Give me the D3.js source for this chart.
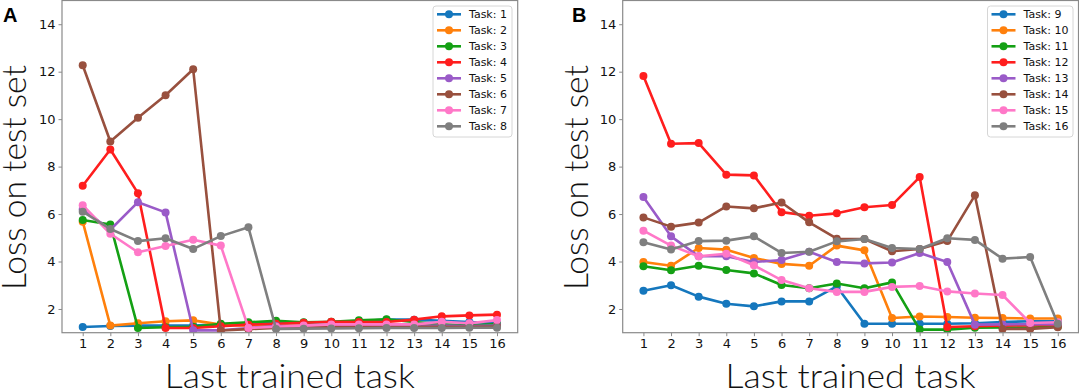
<!DOCTYPE html>
<html><head><meta charset="utf-8">
<script src="https://cdn.jsdelivr.net/npm/d3@7"></script>
<style>body{margin:0;background:#fff;overflow:hidden} svg{display:block}</style>
</head><body>
<svg id="c" width="1079" height="388"></svg>
<script>
// ---- data ----
const lastTrained = [1,2,3,4,5,6,7,8,9,10,11,12,13,14,15,16];
const yTickValues = [2,4,6,8,10,12,14];
const seriesColors = ["#1577bd","#ff800c","#14a014","#ff1e1e","#9a5bc8","#98503e","#ff78c8","#7f7f7f"];

const namesA = ["Task: 1","Task: 2","Task: 3","Task: 4","Task: 5","Task: 6","Task: 7","Task: 8"];
const task1 = [1.24,1.28,1.30,1.30,1.30,1.35,1.38,1.42,1.42,1.45,1.48,1.55,1.55,1.50,1.45,1.40];
const task2 = [5.68,1.30,1.40,1.48,1.52,1.34,1.30,1.30,1.30,1.30,1.30,1.30,1.30,1.30,1.30,1.30];
const task3 = [5.75,5.56,1.20,1.23,1.25,1.38,1.44,1.50,1.44,1.46,1.52,1.57,1.45,1.35,1.30,1.36];
const task4 = [7.19,8.72,6.88,1.20,1.20,1.27,1.34,1.38,1.42,1.46,1.45,1.45,1.55,1.69,1.73,1.76];
const task5 = [6.20,5.34,6.50,6.07,1.10,1.10,1.20,1.28,1.28,1.30,1.30,1.30,1.28,1.30,1.28,1.30];
const task6 = [12.27,9.06,10.06,11.01,12.10,1.09,1.15,1.20,1.22,1.24,1.25,1.25,1.25,1.25,1.25,1.26];
const task7 = [6.37,5.17,4.39,4.65,4.92,4.67,1.20,1.25,1.30,1.35,1.35,1.35,1.35,1.46,1.40,1.53];
const task8 = [6.10,5.37,4.86,4.98,4.53,5.07,5.44,1.16,1.17,1.18,1.19,1.20,1.20,1.20,1.21,1.21];

const namesB = ["Task: 9","Task: 10","Task: 11","Task: 12","Task: 13","Task: 14","Task: 15","Task: 16"];
const task9  = [2.77,3.00,2.52,2.22,2.11,2.32,2.32,2.95,1.38,1.38,1.38,1.38,1.40,1.45,1.48,1.48];
const task10 = [3.98,3.82,4.57,4.50,4.15,3.90,3.82,4.67,4.47,1.62,1.68,1.66,1.63,1.62,1.60,1.60];
const task11 = [3.80,3.63,3.82,3.64,3.50,3.01,2.87,3.07,2.87,3.12,1.13,1.13,1.21,1.22,1.22,1.25];
const task12 = [11.82,8.96,8.99,7.66,7.63,6.08,5.93,6.03,6.29,6.38,7.56,1.24,1.27,1.30,1.32,1.33];
const task13 = [6.72,5.06,4.22,4.22,3.98,4.06,4.41,3.98,3.92,3.96,4.36,3.98,1.34,1.35,1.36,1.36];
const task14 = [5.86,5.47,5.64,6.32,6.24,6.49,5.65,4.96,4.95,4.43,4.53,4.86,6.79,1.16,1.16,1.23];
const task15 = [5.30,4.67,4.22,4.33,3.84,3.22,2.87,2.72,2.72,2.93,2.97,2.74,2.65,2.59,1.41,1.44];
const task16 = [4.81,4.51,4.86,4.88,5.06,4.36,4.41,4.85,4.95,4.57,4.53,4.98,4.91,4.12,4.19,1.38];

const seriesA = [task1,task2,task3,task4,task5,task6,task7,task8];
const seriesB = [task9,task10,task11,task12,task13,task14,task15,task16];

// ---- drawing ----
const svg = d3.select("#c");
const spineColor = "#8a8a8a";

function panel(cfg){
  const x = d3.scaleLinear().domain([0.25,16.75]).range([cfg.left, cfg.right]);
  const y = d3.scaleLinear().domain([1,15]).range([cfg.bottom, cfg.top]);
  const g = svg.append("g");
  const clipId = "clip" + cfg.id;
  svg.append("clipPath").attr("id", clipId).append("rect")
    .attr("x", cfg.left).attr("y", cfg.top)
    .attr("width", cfg.right-cfg.left).attr("height", cfg.bottom-cfg.top);

  const plot = g.append("g").attr("clip-path", `url(#${clipId})`);
  const line = d3.line().x((d,i)=>x(lastTrained[i])).y(d=>y(d));
  cfg.series.forEach((s,k)=>{
    const sg = plot.append("g");
    sg.append("path").datum(s).attr("d", line).attr("fill","none")
      .attr("stroke", seriesColors[k]).attr("stroke-width", 2.6)
      .attr("stroke-linejoin","round");
    sg.selectAll("circle").data(s).join("circle")
      .attr("cx",(d,i)=>x(lastTrained[i])).attr("cy",d=>y(d)).attr("r",4)
      .attr("fill", seriesColors[k]);
  });

  // axes
  const ax = g.append("g").attr("transform",`translate(0,${cfg.bottom})`)
    .call(d3.axisBottom(x).tickValues(lastTrained).tickSize(3.5).tickPadding(3).tickFormat(d3.format("d")));
  const ay = g.append("g").attr("transform",`translate(${cfg.left},0)`)
    .call(d3.axisLeft(y).tickValues(yTickValues).tickSize(3.5).tickPadding(3).tickFormat(d3.format("d")));
  [ax,ay].forEach(a=>{
    a.select(".domain").remove();
    a.selectAll(".tick line").attr("stroke", spineColor).attr("stroke-width",1);
    a.selectAll(".tick text").attr("fill","#111")
      .style("font-family","'DejaVu Sans', sans-serif").style("font-size","13px");
  });
  // frame
  g.append("rect").attr("x",cfg.left).attr("y",cfg.top)
    .attr("width",cfg.right-cfg.left).attr("height",cfg.bottom-cfg.top)
    .attr("fill","none").attr("stroke",spineColor).attr("stroke-width",1.2);

  // axis labels
  g.append("text").attr("x",(cfg.left+cfg.right)/2).attr("y",388)
    .attr("text-anchor","middle")
    .attr("textLength",250).attr("lengthAdjust","spacingAndGlyphs")
    .style("font-family","Lato, 'Open Sans', sans-serif").style("font-weight","300")
    .style("font-size","34px").attr("fill","#111").text("Last trained task");
  g.append("text").attr("transform",`translate(${cfg.ylabX},177.5) rotate(-90)`)
    .attr("text-anchor","middle")
    .attr("textLength",225).attr("lengthAdjust","spacingAndGlyphs")
    .style("font-family","Lato, 'Open Sans', sans-serif").style("font-weight","300")
    .style("font-size","34px").attr("fill","#111").text("Loss on test set");

  // panel letter
  g.append("text").attr("x",cfg.letterX).attr("y",22)
    .style("font-family","'Liberation Sans', Arial, sans-serif").style("font-weight","bold")
    .style("font-size","20px").attr("fill","#000").text(cfg.letter);

  // legend
  const lg = g.append("g");
  lg.append("rect").attr("x",cfg.legX).attr("y",6).attr("width",cfg.legW).attr("height",131)
    .attr("rx",3).attr("fill","#fff").attr("fill-opacity",0.85)
    .attr("stroke","#d6d6d6").attr("stroke-width",1);
  cfg.names.forEach((n,k)=>{
    const yy = 14.3 + 16*k;
    lg.append("line").attr("x1",cfg.legX+4).attr("x2",cfg.legX+28).attr("y1",yy).attr("y2",yy)
      .attr("stroke",seriesColors[k]).attr("stroke-width",2.6);
    lg.append("circle").attr("cx",cfg.legX+16).attr("cy",yy).attr("r",4).attr("fill",seriesColors[k]);
    lg.append("text").attr("x",cfg.legX+36).attr("y",yy+4)
      .style("font-family","'DejaVu Sans', sans-serif").style("font-size","11px")
      .attr("fill","#111").text(n);
  });
}

panel({id:"A", left:62, right:517.7, top:0.5, bottom:332.7, series:seriesA, names:namesA,
       ylabX:26, letter:"A", letterX:3, legX:433, legW:79});
panel({id:"B", left:622.7, right:1078.5, top:0.5, bottom:332.7, series:seriesB, names:namesB,
       ylabX:588, letter:"B", letterX:572, legX:987.5, legW:85.5});
</script>
</body></html>
